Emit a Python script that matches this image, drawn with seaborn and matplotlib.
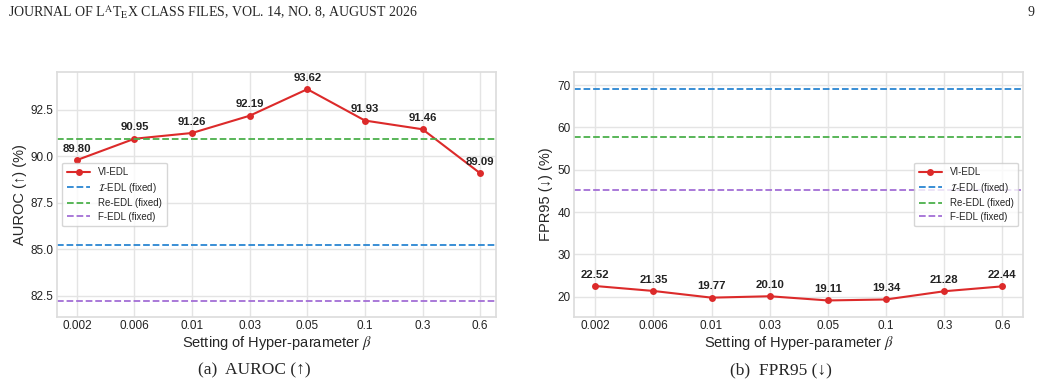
import numpy as np
import pandas as pd
import seaborn as sns
import matplotlib.pyplot as plt

# values
betas = ["0.002", "0.006", "0.01", "0.03", "0.05", "0.1", "0.3", "0.6"]
auroc_vi = [89.80, 90.95, 91.26, 92.19, 93.62, 91.93, 91.46, 89.09]
fpr_vi = [22.52, 21.35, 19.77, 20.10, 19.11, 19.34, 21.28, 22.44]

# fixed baselines (horizontal lines)
auroc_iedl, auroc_reedl, auroc_fedl = 85.25, 90.93, 82.22
fpr_iedl, fpr_reedl, fpr_fedl = 69.0, 57.6, 45.3

red = "#dc2a2a"
blue = "#2a86d2"
green = "#4bb04b"
purple = "#a36ed6"

sns.set_theme(style="whitegrid")
plt.rcParams["font.family"] = ["Liberation Sans", "DejaVu Sans"]
plt.rcParams["mathtext.fontset"] = "stix"
plt.rcParams["axes.edgecolor"] = "#dddddd"
plt.rcParams["grid.color"] = "#e4e4e4"

fig = plt.figure(figsize=(10.41, 3.84), dpi=100)
ax1 = fig.add_axes([57.3 / 1041, 1 - 316.7 / 384, 438.4 / 1041, 244.4 / 384])
ax2 = fig.add_axes([574.3 / 1041, 1 - 316.7 / 384, 449.0 / 1041, 244.4 / 384])

df_a = pd.DataFrame({"beta": betas, "val": auroc_vi})
df_b = pd.DataFrame({"beta": betas, "val": fpr_vi})


def draw(ax, df, fixed, ylabel, ylim, xlim, legend_loc):
    sns.lineplot(data=df, x="beta", y="val", ax=ax, color=red, marker="o",
                 markersize=5, markeredgewidth=0, linewidth=1.5,
                 label="VI-EDL", sort=False)
    ax.axhline(fixed[0], color=blue, ls="--", lw=1.3, label=r"$\mathcal{I}$-EDL (fixed)")
    ax.axhline(fixed[1], color=green, ls="--", lw=1.3, label="Re-EDL (fixed)")
    ax.axhline(fixed[2], color=purple, ls="--", lw=1.3, label="F-EDL (fixed)")
    for i, v in enumerate(df["val"]):
        ax.annotate(f"{v:.2f}", (i, v), xytext=(0, 4.5), textcoords="offset points",
                    ha="center", va="bottom", fontsize=8.2, fontweight="bold",
                    color="#222222")
    ax.set_ylim(*ylim)
    ax.set_xlim(*xlim)
    ax.set_xlabel(r"Setting of Hyper-parameter $\beta$", fontsize=10.5, labelpad=1)
    ax.set_ylabel(ylabel, fontsize=10.5, labelpad=3)
    ax.tick_params(axis="both", labelsize=8.5, length=0, pad=2.5, colors="#222222")
    ax.legend(loc=legend_loc, fontsize=7, frameon=True, handlelength=2.4,
              borderpad=0.5, labelspacing=0.35)


draw(ax1, df_a, (auroc_iedl, auroc_reedl, auroc_fedl), "AUROC (↑) (%)",
     (81.36, 94.53), (-0.34, 7.27), "center left")
ax1.set_yticks([82.5, 85.0, 87.5, 90.0, 92.5])
draw(ax2, df_b, (fpr_iedl, fpr_reedl, fpr_fedl), "FPR95 (↓) (%)",
     (15.27, 73.0), (-0.36, 7.36), "center right")
ax2.set_yticks([20, 30, 40, 50, 60, 70])

serif = ["Liberation Serif", "DejaVu Serif"]
fig.text(8 / 1041, 1 - 12 / 384,
         r"JOURNAL OF L$^{\mathrm{A}}$T$_{\mathrm{E}}$X CLASS FILES, VOL. 14, NO. 8, AUGUST 2026",
         family=serif, fontsize=10, va="center", ha="left")
fig.text(1034 / 1041, 1 - 12 / 384, "9", family=serif, fontsize=10,
         va="center", ha="right")
fig.text(254 / 1041, 1 - 370 / 384, "(a)  AUROC (↑)", family=serif,
         fontsize=12.5, va="center", ha="center")
fig.text(781 / 1041, 1 - 370 / 384, "(b)  FPR95 (↓)", family=serif,
         fontsize=12.5, va="center", ha="center")

fig.savefig("out.png", dpi=100)
